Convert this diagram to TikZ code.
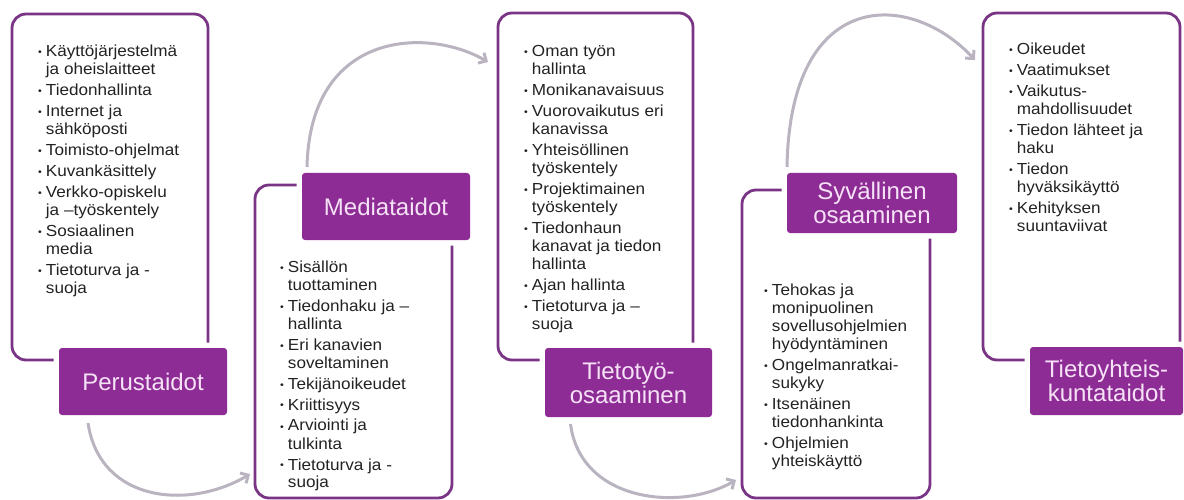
\documentclass[tikz,border=0pt]{standalone}
\usepackage{fontspec}
\setmainfont{Liberation Sans}
\newfontfamily\listfont[FakeStretch=1.07]{Liberation Sans}
\usetikzlibrary{arrows.meta}
\definecolor{rim}{HTML}{7A3486}
\definecolor{plum}{HTML}{8E2C96}
\definecolor{blush}{HTML}{F6E2F6}
\definecolor{mist}{HTML}{BAB3C0}
\definecolor{ink}{HTML}{222222}
\newcommand{\blt}{\raisebox{1pt}{\fontsize{10}{10}\selectfont •}}
\begin{document}
\begin{tikzpicture}[x=1pt,y=-1pt,
  panel/.style={draw=rim, line width=2.8pt, rounded corners=14pt, inner sep=0pt, outer sep=0pt},
  heading/.style={fill=plum, text=blush, rounded corners=3pt, inner sep=0pt, outer sep=0pt, align=center,
    font=\fontsize{24}{24}\selectfont, preaction={draw=white, line width=11pt}},
  itemlist/.style={anchor=base west, inner sep=0pt, text=ink, font=\listfont\fontsize{16}{18}\selectfont},
  flow/.style={draw=mist, line width=3pt, -{Straight Barb[length=6pt,width=12pt]}}]
\useasboundingbox (0,0) rectangle (1184,500);

\node[panel, minimum width=196pt, minimum height=346pt] (p1) at (110,187) {};
\node[panel, minimum width=197pt, minimum height=313pt] (p2) at (353.5,341.5) {};
\node[panel, minimum width=195pt, minimum height=347pt] (p3) at (595.5,186.5) {};
\node[panel, minimum width=188pt, minimum height=308pt] (p4) at (836,344) {};
\node[panel, minimum width=197pt, minimum height=347pt] (p5) at (1081.5,186.5) {};

\node[heading, minimum width=168pt, minimum height=67pt] (h1) at (143,381.5) {Perustaidot};
\node[heading, minimum width=168pt, minimum height=67pt] (h2) at (386,206.5) {Mediataidot};
\node[heading, minimum width=167pt, minimum height=69pt] (h3) at (628.5,382.5) {Tietotyö-\\osaaminen};
\node[heading, minimum width=170pt, minimum height=60pt] (h4) at (872,203) {Syvällinen\\osaaminen};
\node[heading, minimum width=153pt, minimum height=68pt] (h5) at (1106.5,381) {Tietoyhteis-\\kuntataidot};

\node[itemlist] (t1) at (38,57) {\begin{tabular}[t]{@{}l@{\hspace{4pt}}l@{}}
\blt & Käyttöjärjestelmä\\ & ja oheislaitteet\\[3pt]
\blt & Tiedonhallinta\\[3pt]
\blt & Internet ja\\ & sähköposti\\[3pt]
\blt & Toimisto-ohjelmat\\[3pt]
\blt & Kuvankäsittely\\[3pt]
\blt & Verkko-opiskelu\\ & ja –työskentely\\[3pt]
\blt & Sosiaalinen\\ & media\\[3pt]
\blt & Tietoturva ja -\\ & suoja
\end{tabular}};
\node[itemlist] (t2) at (280,272) {\begin{tabular}[t]{@{}l@{\hspace{4pt}}l@{}}
\blt & Sisällön\\ & tuottaminen\\[3pt]
\blt & Tiedonhaku ja –\\ & hallinta\\[3pt]
\blt & Eri kanavien\\ & soveltaminen\\[3pt]
\blt & Tekijänoikeudet\\[3pt]
\blt & Kriittisyys\\[3pt]
\blt & Arviointi ja\\ & tulkinta\\[3pt]
\blt & Tietoturva ja -\\ & suoja
\end{tabular}};
\node[itemlist] (t3) at (524,57) {\begin{tabular}[t]{@{}l@{\hspace{4pt}}l@{}}
\blt & Oman työn\\ & hallinta\\[3pt]
\blt & Monikanavaisuus\\[3pt]
\blt & Vuorovaikutus eri\\ & kanavissa\\[3pt]
\blt & Yhteisöllinen\\ & työskentely\\[3pt]
\blt & Projektimainen\\ & työskentely\\[3pt]
\blt & Tiedonhaun\\ & kanavat ja tiedon\\ & hallinta\\[3pt]
\blt & Ajan hallinta\\[3pt]
\blt & Tietoturva ja –\\ & suoja
\end{tabular}};
\node[itemlist] (t4) at (764,295) {\begin{tabular}[t]{@{}l@{\hspace{4pt}}l@{}}
\blt & Tehokas ja\\ & monipuolinen\\ & sovellusohjelmien\\ & hyödyntäminen\\[3pt]
\blt & Ongelmanratkai-\\ & sukyky\\[3pt]
\blt & Itsenäinen\\ & tiedonhankinta\\[3pt]
\blt & Ohjelmien\\ & yhteiskäyttö
\end{tabular}};
\node[itemlist] (t5) at (1009,55) {\begin{tabular}[t]{@{}l@{\hspace{4pt}}l@{}}
\blt & Oikeudet\\[3pt]
\blt & Vaatimukset\\[3pt]
\blt & Vaikutus-\\ & mahdollisuudet\\[3pt]
\blt & Tiedon lähteet ja\\ & haku\\[3pt]
\blt & Tiedon\\ & hyväksikäyttö\\[3pt]
\blt & Kehityksen\\ & suuntaviivat
\end{tabular}};

\draw[flow] ([xshift=-55pt,yshift=-8pt]h1.south) .. controls +(12,80) and +(-60,36) .. ([xshift=-5pt,yshift=24pt]p2.south west);
\draw[flow] ([xshift=-79pt,yshift=6pt]h2.north) .. controls +(3,-137) and +(-60,-35) .. ([xshift=-10pt,yshift=-49pt]p3.north west);
\draw[flow] ([xshift=-58pt,yshift=-7pt]h3.south) .. controls +(10,78) and +(-55,32) .. ([xshift=-6pt,yshift=18pt]p4.south west);
\draw[flow] ([xshift=-85pt,yshift=6pt]h4.north) .. controls +(3,-180) and +(-65,-70) .. ([xshift=-8pt,yshift=-47pt]p5.north west);
\end{tikzpicture}
\end{document}
